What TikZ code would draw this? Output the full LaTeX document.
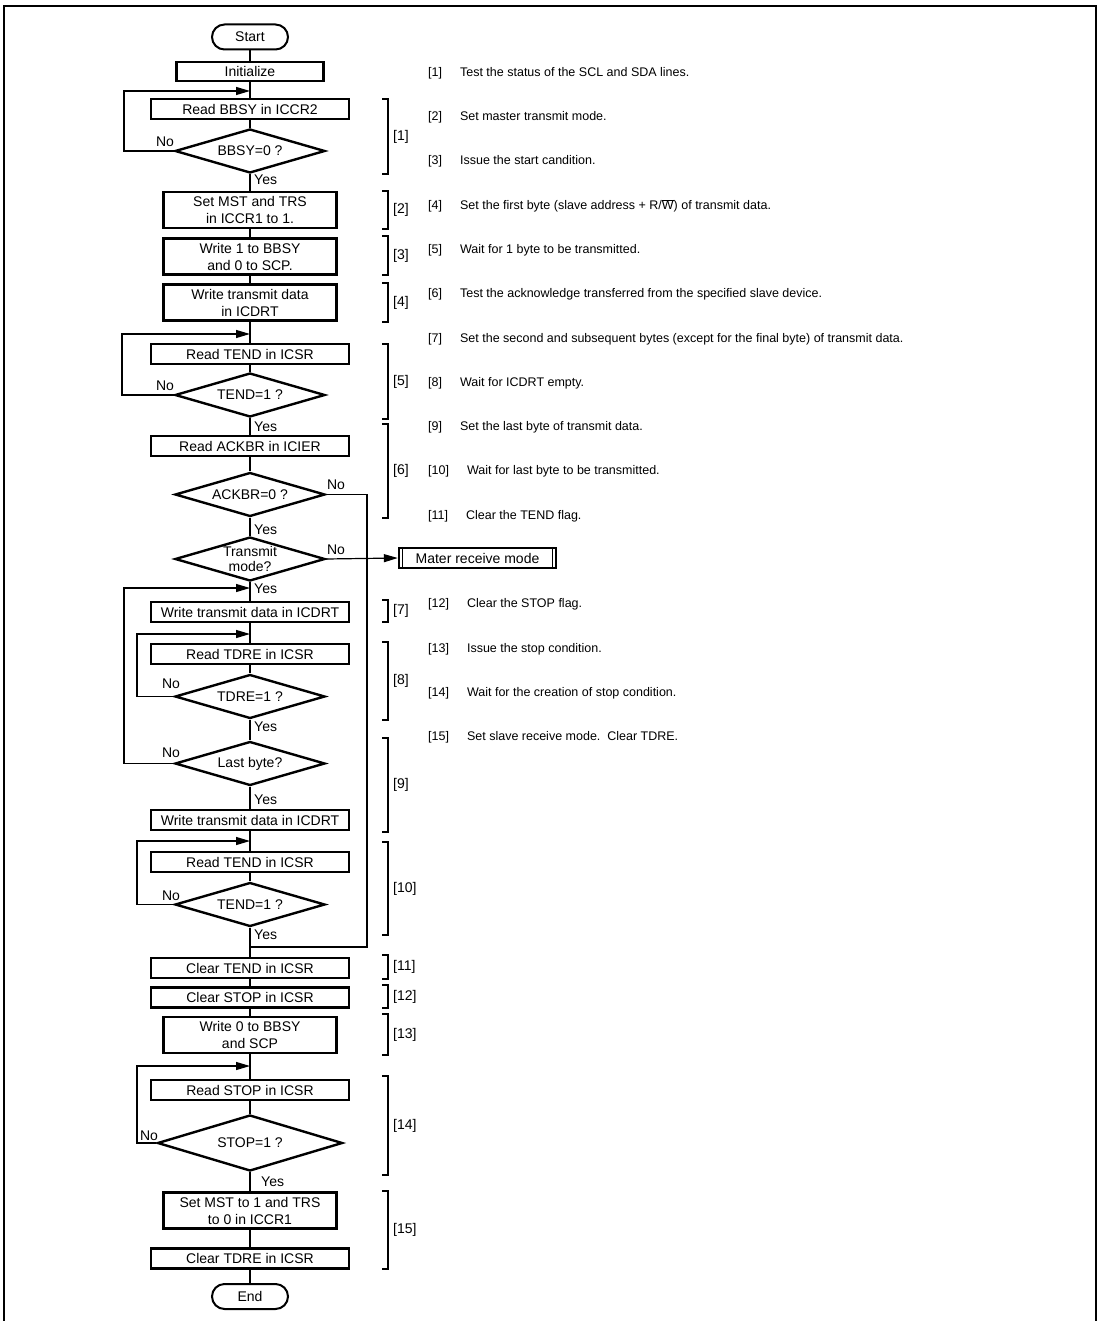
\documentclass[tikz,border=0pt]{standalone}
\usepackage{fontspec}
\setmainfont{Liberation Sans}
\usetikzlibrary{arrows.meta, shapes.geometric}

\newcommand{\flowfont}{\fontsize{14}{17}\selectfont}
\newcommand{\notefont}{\fontsize{12.5}{15}\selectfont}

\begin{document}
\begin{tikzpicture}[
    x=1pt, y=-1pt,
    term/.style={draw, line width=2pt, rounded corners=12.5pt, minimum width=76pt,
        minimum height=25pt, inner sep=0pt, font=\flowfont},
    box/.style={draw, line width=2.4pt, minimum width=198pt, minimum height=20pt,
        inner sep=0pt, align=center, font=\flowfont},
    wbox/.style={box, minimum width=173pt, minimum height=36pt},
    decision/.style={diamond, draw, line width=2.4pt, shape aspect=3.3, minimum width=150pt,
        minimum height=44pt, inner sep=0pt, align=center, font=\flowfont},
    predef/.style={draw, line width=2.4pt, minimum width=157pt, minimum height=20pt,
        inner sep=0pt, font=\flowfont},
    wire/.style={line width=1.2pt},
    flow/.style={wire, -{Triangle[length=14pt, width=8pt]}},
    tag/.style={inner sep=0pt, font=\flowfont},
    note/.style={inner sep=0pt, anchor=west, font=\notefont}
]
\useasboundingbox (0,0) rectangle (1101,1321);
\draw[line width=2.7pt] (4,1321) -- (4,6) -- (1096,6) -- (1096,1321);

\node[term] (start) at (250,37) {Start};
\node[box, minimum width=147pt, minimum height=19pt] (init) at (250,71.5) {Initialize};
\node[box] (rbbsy) at (250,109) {Read BBSY in ICCR2};
\node[decision] (bbsy) at (250,151) {BBSY=0 ?};
\node[wbox] (setmst) at (250,210) {Set MST and TRS\\in ICCR1 to 1.};
\node[wbox] (wrone) at (250,256.5) {Write 1 to BBSY\\and 0 to SCP.};
\node[wbox] (wrfirst) at (250,302.5) {Write transmit data\\in ICDRT};
\node[box] (rtenda) at (250,354) {Read TEND in ICSR};
\node[decision] (tenda) at (250,395) {TEND=1 ?};
\node[box] (rack) at (250,446) {Read ACKBR in ICIER};
\node[decision] (ack) at (250,494.5) {ACKBR=0 ?};
\node[decision, font=\fontsize{14}{15}\selectfont] (trans) at (250,559) {Transmit\\mode?};
\node[predef] (mater) at (477.5,558) {Mater receive mode};
\node[box] (wrnext) at (250,612) {Write transmit data in ICDRT};
\node[box] (rtdre) at (250,654) {Read TDRE in ICSR};
\node[decision] (tdre) at (250,696.5) {TDRE=1 ?};
\node[decision] (last) at (250,763.5) {Last byte?};
\node[box] (wrlast) at (250,820) {Write transmit data in ICDRT};
\node[box] (rtendb) at (250,862) {Read TEND in ICSR};
\node[decision] (tendb) at (250,904.5) {TEND=1 ?};
\node[box] (ctend) at (250,968) {Clear TEND in ICSR};
\node[box] (cstop) at (250,997.5) {Clear STOP in ICSR};
\node[wbox] (wrzero) at (250,1035) {Write 0 to BBSY\\and SCP};
\node[box] (rstop) at (250,1090) {Read STOP in ICSR};
\node[decision, minimum width=185pt, minimum height=56pt] (stop) at (250,1143) {STOP=1 ?};
\node[wbox] (setrx) at (250,1210.5) {Set MST to 1 and TRS\\to 0 in ICCR1};
\node[box] (ctdre) at (250,1258.5) {Clear TDRE in ICSR};
\node[term] (fin) at (250,1296.5) {End};

\draw[wire] ([xshift=5pt]mater.north west) -- ([xshift=5pt]mater.south west);
\draw[wire] ([xshift=-5pt]mater.north east) -- ([xshift=-5pt]mater.south east);

\foreach \a/\b in {start/init, init/rbbsy, rbbsy/bbsy, bbsy/setmst, setmst/wrone, wrone/wrfirst,
    wrfirst/rtenda, rtenda/tenda, tenda/rack, rack/ack, ack/trans, trans/wrnext, wrnext/rtdre,
    rtdre/tdre, tdre/last, last/wrlast, wrlast/rtendb, rtendb/tendb, tendb/ctend, ctend/cstop,
    cstop/wrzero, wrzero/rstop, rstop/stop, stop/setrx, setrx/ctdre, ctdre/fin}
    \draw[wire] (\a) -- (\b);

\coordinate (backa) at (250,91);
\coordinate (backb) at (250,334);
\coordinate (backc) at (250,588);
\coordinate (backd) at (250,634);
\coordinate (backe) at (250,841);
\coordinate (backf) at (250,1066);
\coordinate (merge) at (250,947);

\draw[flow] (bbsy.west) -| ([xshift=-126pt]backa) -- (backa);
\draw[flow] (tenda.west) -| ([xshift=-128pt]backb) -- (backb);
\draw[flow] (last.west) -| ([xshift=-126pt]backc) -- (backc);
\draw[flow] (tdre.west) -| ([xshift=-113pt]backd) -- (backd);
\draw[flow] (tendb.west) -| ([xshift=-113pt]backe) -- (backe);
\draw[flow] (stop.west) -| ([xshift=-113pt]backf) -- (backf);
\draw[wire] (ack.east) -| ([xshift=117pt]merge) -- (merge);
\draw[flow] (trans.east) -- (mater.west);

\node[tag] (noa) at (165,142) {No};
\node[tag] (nob) at (165,386) {No};
\node[tag] (noc) at (336,485) {No};
\node[tag] (nod) at (336,550) {No};
\node[tag] (noe) at (171,684) {No};
\node[tag] (nof) at (171,753) {No};
\node[tag] (nog) at (171,896) {No};
\node[tag] (noh) at (149,1136) {No};
\node[tag, anchor=west] (yesa) at (254,180) {Yes};
\node[tag, anchor=west] (yesb) at (254,427) {Yes};
\node[tag, anchor=west] (yesc) at (254,530) {Yes};
\node[tag, anchor=west] (yesd) at (254,589) {Yes};
\node[tag, anchor=west] (yese) at (254,727) {Yes};
\node[tag, anchor=west] (yesf) at (254,800) {Yes};
\node[tag, anchor=west] (yesg) at (254,935) {Yes};
\node[tag, anchor=west] (yesh) at (261,1182) {Yes};

\foreach \a/\b/\n in {99/174/1, 191/229/2, 236/275/3, 283/322/4, 344/419/5, 424/518/6,
    600/622/7, 642/720/8, 738/832/9, 842/935/10, 955/979/11, 985/1008/12, 1014/1055/13,
    1076/1175/14, 1191/1269/15} {
    \draw[wire] (382,\a) -- (388,\a) -- (388,\b) -- (382,\b);
    \node[tag, anchor=west] (step\n) at (393,{(\a+\b)/2}) {[\n]};
}

\foreach \k/\n/\t in {
    0/1/{Test the status of the SCL and SDA lines.},
    1/2/{Set master transmit mode.},
    2/3/{Issue the start candition.},
    3/4/{Set the first byte (slave address + R/$\overline{\mbox{W}}$) of transmit data.},
    4/5/{Wait for 1 byte to be transmitted.},
    5/6/{Test the acknowledge transferred from the specified slave device.},
    6/7/{Set the second and subsequent bytes (except for the final byte) of transmit data.},
    7/8/{Wait for ICDRT empty.},
    8/9/{Set the last byte of transmit data.},
    9/10/{Wait for last byte to be transmitted.},
    10/11/{Clear the TEND flag.},
    12/12/{Clear the STOP flag.},
    13/13/{Issue the stop condition.},
    14/14/{Wait for the creation of stop condition.},
    15/15/{Set slave receive mode.\ \ Clear TDRE.}}
    \node[note] (note\n) at (428,{73+44.3*\k}) {[\n]\hspace{18pt}\t};
\end{tikzpicture}
\end{document}
